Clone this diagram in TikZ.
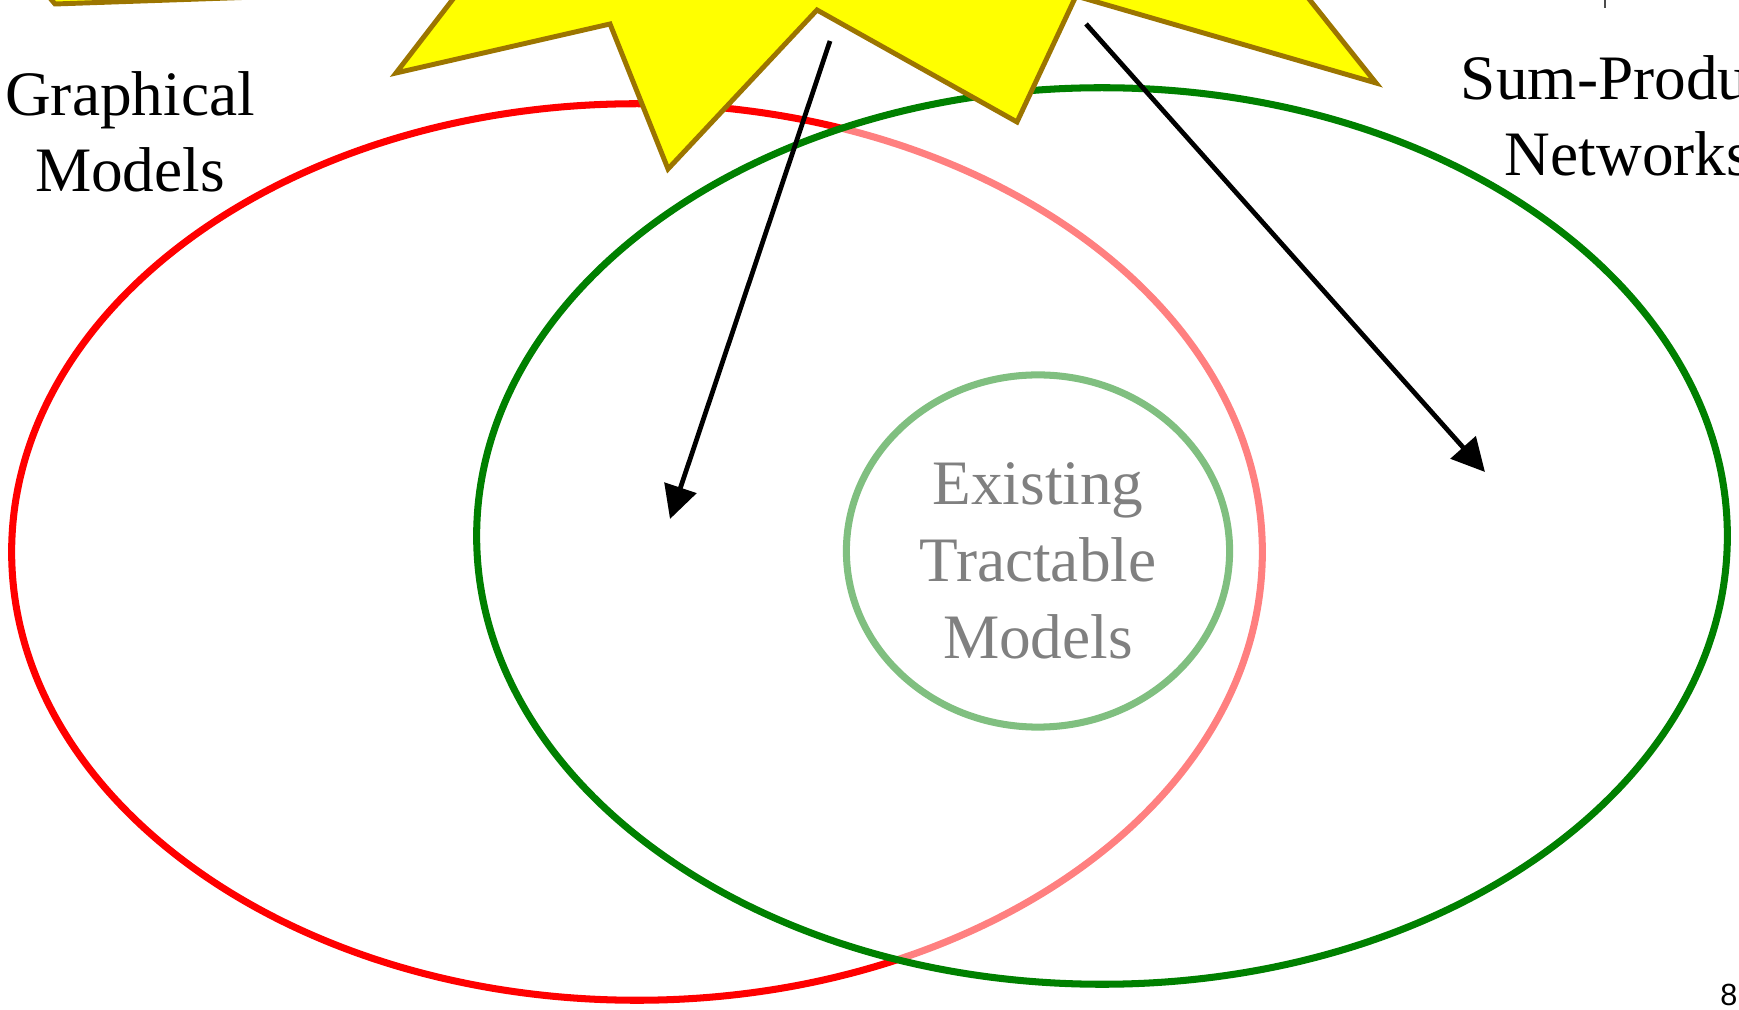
\documentclass[tikz,border=0pt]{standalone}
\usepackage{fontspec}
\setmainfont{Liberation Serif}
\newfontfamily\pagefont{Liberation Sans}
\usetikzlibrary{arrows.meta, shapes.geometric, positioning}
\definecolor{setred}{HTML}{FF0000}
\definecolor{setgreen}{HTML}{008000}
\definecolor{staryellow}{HTML}{FFFF00}
\definecolor{staredge}{HTML}{9C7500}

\begin{document}
\begin{tikzpicture}[x=0.01cm, y=-0.01cm,
    setline/.style={ellipse, line width=2pt, inner sep=0pt},
    setlabel/.style={align=center, font=\fontsize{18}{21.8}\selectfont},
    pointer/.style={line width=1.35pt, -{Triangle[length=0.33cm, width=0.33cm]}}]
  \useasboundingbox (0,0) rectangle (1739,1010);
  \clip (0,0) rectangle (1739,1010);
  % the two model classes and what is known to be tractable
  \node[setline, draw=setred, minimum width=12.5cm, minimum height=8.96cm] (gm) at (637,552) {};
  \node[setline, draw=setgreen, minimum width=3.83cm, minimum height=3.52cm] (etm) at (1038,551) {};
  \node[setlabel] (etmtext) at (1038,561) {Existing\\Tractable\\Models};
  \node[setline, draw=setgreen, fill=white, fill opacity=0.5, minimum width=12.5cm, minimum height=8.96cm] (spn) at (1102,536) {};
  % star
  \draw[line width=1.4pt, draw=staredge, fill=staryellow]
    (-200,-300) -- (55,4) -- (460,-10) -- (396,73) -- (610,24) -- (668,169) -- (817,10)
    -- (1017,122) -- (1076,-4) -- (1376,83) -- (1262,-60) -- (1500,-300) -- cycle;
  \draw[line width=0.4pt, black!70] (1605,0) -- (1605,8);
  % arrows out of the star
  \coordinate (s1) at (830,41);
  \coordinate (s2) at (1086,24);
  \coordinate (t1) at (670,519);
  \coordinate (t2) at (1485,472);
  \draw[pointer] (s1) -- (t1);
  \draw[pointer] (s2) -- (t2);
  % labels
  \node[setlabel] (gmlabel) at (130,132) {Graphical\\Models};
  \node[setlabel] (spnlabel) at (1628,116) {Sum-Product\\Networks};
  \node[font=\pagefont\fontsize{8.7}{10}\selectfont, anchor=base east, inner sep=0pt] (pagenum) at (1738,1005) {8};
\end{tikzpicture}
\end{document}
